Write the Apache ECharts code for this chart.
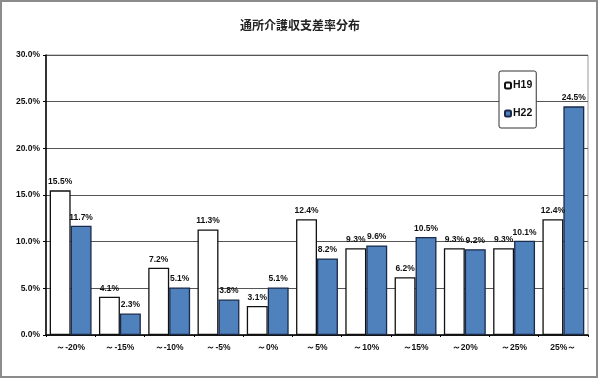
<!DOCTYPE html>
<html><head><meta charset="utf-8">
<script src="https://cdn.jsdelivr.net/npm/echarts@6/dist/echarts.min.js"></script>
<style>html,body{margin:0;padding:0;background:#fff}#c{width:600px;height:380px}</style>
</head><body><div id="c"></div>
<script>
const title = '通所介護収支差率分布';
const categories = ['～-20%','～-15%','～-10%','～-5%','～0%','～5%','～10%','～15%','～20%','～25%','25%～'];
const h19 = [15.5, 4.1, 7.2, 11.3, 3.1, 12.4, 9.3, 6.2, 9.3, 9.3, 12.4];
const h22 = [11.7, 2.3, 5.1, 3.8, 5.1, 8.2, 9.6, 10.5, 9.2, 10.1, 24.5];
const seriesNames = ['H19', 'H22'];

const chart = echarts.init(document.getElementById('c'), null, {renderer: 'canvas'});
const font = '"Liberation Sans", Arial, sans-serif';
const lbl = {show: true, position: 'top', distance: 4, fontSize: 8.5, fontWeight: 'bold', fontFamily: font, color: '#111',
  formatter: p => p.value.toFixed(1) + '%'};
chart.setOption({
  animation: false,
  title: {text: title, left: 'center', top: 14,
    textStyle: {fontSize: 12, fontWeight: 'bold', color: '#222', fontFamily: '"Noto Sans CJK JP", sans-serif'}},
  graphic: [{type: 'rect', shape: {x: 1, y: 1, width: 596, height: 376},
    style: {fill: null, stroke: '#8c8c8c', lineWidth: 2}, silent: true}],
  legend: {orient: 'vertical', left: 499, top: 71, padding: [9, 4, 9, 5], itemGap: 17,
    itemWidth: 6, itemHeight: 6, borderColor: '#333', borderWidth: 1, borderRadius: 2,
    backgroundColor: '#fff', textStyle: {fontSize: 10.5, fontWeight: 'bold', fontFamily: font, color: '#111', padding: [0,0,0,-3]},
    data: seriesNames},
  grid: {left: 46, top: 55, width: 542, height: 280, show: true, borderColor: '#999', borderWidth: 1},
  xAxis: {type: 'category', data: categories,
    axisLine: {lineStyle: {color: '#000', width: 1.5}},
    axisTick: {show: true, length: 2, lineStyle: {color: '#000'}},
    axisLabel: {fontSize: 8.5, fontWeight: 'bold', fontFamily: font, color: '#111', margin: 8}},
  yAxis: {type: 'value', min: 0, max: 30, interval: 5,
    axisLine: {show: true, lineStyle: {color: '#000', width: 1.5}},
    axisTick: {show: true, length: 3, inside: false, lineStyle: {color: '#000'}},
    axisLabel: {fontSize: 8.5, fontWeight: 'bold', fontFamily: font, color: '#111', margin: 6, formatter: v => v.toFixed(1) + '%'},
    splitLine: {lineStyle: {color: '#555', width: 1}}},
  series: [
    {name: seriesNames[0], type: 'bar', data: h19, barGap: '0%', barCategoryGap: '15%',
      itemStyle: {color: '#ffffff', borderColor: '#111', borderWidth: 1.3}, label: lbl},
    {name: seriesNames[1], type: 'bar', data: h22,
      itemStyle: {color: '#4f81bd', borderColor: '#1a2a4a', borderWidth: 1.3}, label: lbl}
  ]
});
</script></body></html>
